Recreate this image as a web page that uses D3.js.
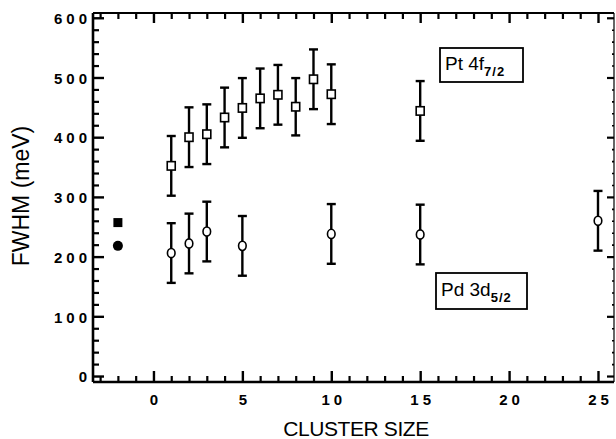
<!DOCTYPE html>
<html>
<head>
<meta charset="utf-8">
<script src="https://cdn.jsdelivr.net/npm/d3@7"></script>
<style>
  body { margin: 0; background: #fff; }
  svg { display: block; font-family: "Liberation Sans", Arial, sans-serif; }
</style>
</head>
<body>
<svg id="chart" width="616" height="439"></svg>
<script>
// Pt 4f7/2 widths (open squares)
var ptSize = [1, 2, 3, 4, 5, 6, 7, 8, 9, 10, 15];
var ptFwhm = [352, 400, 405, 433, 449, 465, 471, 451, 497, 472, 444];
var ptErr  = [50, 50, 50, 50, 50, 50, 50, 48, 50, 50, 50];
// Pd 3d5/2 widths (open circles)
var pdSize = [1, 2, 3, 5, 10, 15, 25];
var pdFwhm = [206, 222, 242, 218, 238, 237, 260];
var pdErr  = [50, 50, 50, 50, 50, 50, 50];
// bulk reference points (filled), plotted at x = -2
var bulkSize = [-2];
var bulkPt = [257];
var bulkPd = [218];

var xMajor = [0, 5, 10, 15, 20, 25];
var yMajor = [0, 100, 200, 300, 400, 500, 600];

var svg = d3.select('#chart');
// plot frame (note: "top" is a reserved window prop, so use pl/pr/pt/pb)
var pl = 93, pr = 614, pt = 13, pb = 382;

var x = d3.scaleLinear().domain([-3.4, 25.9]).range([pl, pr]);
var y = d3.scaleLinear().domain([-10, 608]).range([pb, pt]);

var xMinor = d3.range(-3, 26).filter(function (v) { return v % 5 != 0; });
var yMinor = d3.range(0, 601, 20).filter(function (v) { return v % 100 != 0; });

function styleAxis(g, w) {
  g.selectAll('path').remove();
  g.selectAll('line').attr('stroke', '#000').attr('stroke-width', w);
}

// frame
svg.append('line').attr('x1', pl).attr('x2', pr).attr('y1', pb).attr('y2', pb)
  .attr('stroke', '#000').attr('stroke-width', 2.6);
svg.append('line').attr('x1', pl).attr('x2', pl).attr('y1', pt).attr('y2', pb)
  .attr('stroke', '#000').attr('stroke-width', 2.6);
svg.append('line').attr('x1', pl).attr('x2', pr).attr('y1', pt).attr('y2', pt)
  .attr('stroke', '#000').attr('stroke-width', 2.2);
svg.append('line').attr('x1', pr).attr('x2', pr).attr('y1', pt).attr('y2', pb)
  .attr('stroke', '#000').attr('stroke-width', 1.2);

// bottom axis
var gb = svg.append('g').attr('transform', 'translate(0,' + pb + ')')
  .call(d3.axisBottom(x).tickValues(xMajor).tickSizeInner(-11).tickSizeOuter(0).tickPadding(12));
styleAxis(gb, 2.4);
gb.selectAll('text').attr('fill', '#000').attr('font-size', 15).attr('font-weight', 'bold')
  .attr('letter-spacing', 4).attr('dx', 2);
var gbm = svg.append('g').attr('transform', 'translate(0,' + pb + ')')
  .call(d3.axisBottom(x).tickValues(xMinor).tickSizeInner(-6).tickSizeOuter(0).tickFormat(''));
styleAxis(gbm, 2.2);

// top axis
var gt = svg.append('g').attr('transform', 'translate(0,' + pt + ')')
  .call(d3.axisTop(x).tickValues(xMajor).tickSizeInner(-10).tickSizeOuter(0).tickFormat(''));
styleAxis(gt, 2.4);
var gtm = svg.append('g').attr('transform', 'translate(0,' + pt + ')')
  .call(d3.axisTop(x).tickValues(xMinor).tickSizeInner(-6).tickSizeOuter(0).tickFormat(''));
styleAxis(gtm, 2.2);

// left axis
var gl = svg.append('g').attr('transform', 'translate(' + pl + ',0)')
  .call(d3.axisLeft(y).tickValues(yMajor).tickSizeInner(-11).tickSizeOuter(0).tickPadding(2));
styleAxis(gl, 2.4);
gl.selectAll('text').attr('fill', '#000').attr('font-size', 15).attr('font-weight', 'bold')
  .attr('letter-spacing', 4).attr('dy', '0.38em');
var glm = svg.append('g').attr('transform', 'translate(' + pl + ',0)')
  .call(d3.axisLeft(y).tickValues(yMinor).tickSizeInner(-6).tickSizeOuter(0).tickFormat(''));
styleAxis(glm, 2.2);

// right axis
var gr = svg.append('g').attr('transform', 'translate(' + pr + ',0)')
  .call(d3.axisRight(y).tickValues(yMajor).tickSizeInner(-7).tickSizeOuter(0).tickFormat(''));
styleAxis(gr, 2.2);
var grm = svg.append('g').attr('transform', 'translate(' + pr + ',0)')
  .call(d3.axisRight(y).tickValues(yMinor).tickSizeInner(-2).tickSizeOuter(0).tickFormat(''));
styleAxis(grm, 1.6);

// axis titles
svg.append('text').attr('x', 356).attr('y', 436).attr('text-anchor', 'middle')
  .attr('font-size', 21).attr('letter-spacing', -0.4).text('CLUSTER SIZE');
svg.append('text').attr('transform', 'translate(29,196) rotate(-90)').attr('text-anchor', 'middle')
  .attr('font-size', 23).text('FWHM (meV)');

// error bars
function errorBars(xs, ys, es) {
  var g = svg.append('g').attr('stroke', '#000').attr('stroke-width', 2.4);
  xs.forEach(function (xv, i) {
    var cx = x(xv), lo = y(ys[i] - es[i]), hi = y(ys[i] + es[i]);
    g.append('line').attr('x1', cx).attr('x2', cx).attr('y1', lo).attr('y2', hi);
    g.append('line').attr('x1', cx - 4.5).attr('x2', cx + 4.5).attr('y1', lo).attr('y2', lo);
    g.append('line').attr('x1', cx - 4.5).attr('x2', cx + 4.5).attr('y1', hi).attr('y2', hi);
  });
}
errorBars(ptSize, ptFwhm, ptErr);
errorBars(pdSize, pdFwhm, pdErr);

// open squares
svg.append('g').selectAll('rect').data(ptSize).enter().append('rect')
  .attr('x', function (d) { return x(d) - 4; })
  .attr('y', function (d, i) { return y(ptFwhm[i]) - 4.2; })
  .attr('width', 8).attr('height', 8.4)
  .attr('fill', '#fff').attr('stroke', '#000').attr('stroke-width', 1.6);

// open circles
svg.append('g').selectAll('ellipse').data(pdSize).enter().append('ellipse')
  .attr('cx', function (d) { return x(d); })
  .attr('cy', function (d, i) { return y(pdFwhm[i]); })
  .attr('rx', 3.8).attr('ry', 4.6)
  .attr('fill', '#fff').attr('stroke', '#000').attr('stroke-width', 1.6);

// bulk filled markers
svg.append('g').selectAll('rect').data(bulkSize).enter().append('rect')
  .attr('x', function (d) { return x(d) - 4.5; })
  .attr('y', function (d, i) { return y(bulkPt[i]) - 4.5; })
  .attr('width', 9).attr('height', 9).attr('fill', '#000');
svg.append('g').selectAll('circle').data(bulkSize).enter().append('circle')
  .attr('cx', function (d) { return x(d); })
  .attr('cy', function (d, i) { return y(bulkPd[i]); })
  .attr('r', 5).attr('fill', '#000');

// labels in boxes
function label(bx, by, bw, bh, main, sub, tx, ty) {
  svg.append('rect').attr('x', bx).attr('y', by).attr('width', bw).attr('height', bh)
    .attr('fill', '#fff').attr('stroke', '#000').attr('stroke-width', 1.8);
  var t = svg.append('text').attr('x', tx).attr('y', ty).attr('font-size', 19);
  t.append('tspan').text(main);
  t.append('tspan').attr('dy', 6).attr('font-size', 13).attr('font-weight', 'bold')
    .attr('letter-spacing', 1).text(sub);
}
label(440, 48, 83, 34, 'Pt  4f', '7/2', 445, 70);
label(436, 273, 91, 36, 'Pd 3d', '5/2', 441, 296);
</script>
</body>
</html>
